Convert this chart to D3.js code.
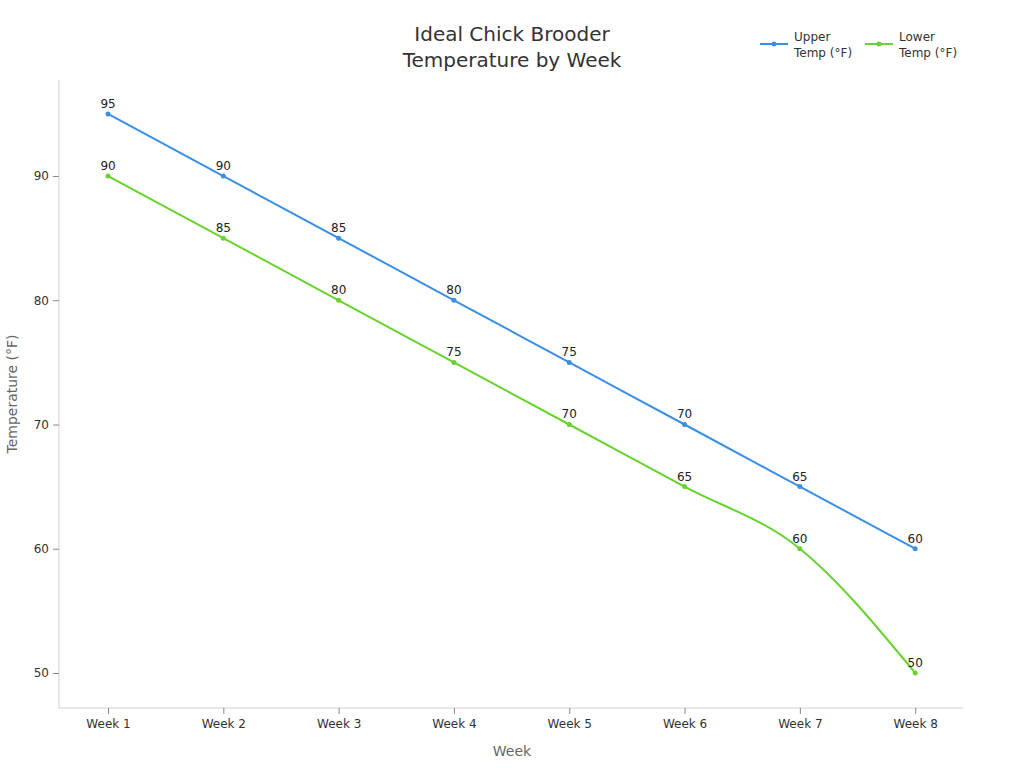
<!DOCTYPE html>
<html>
<head>
<meta charset="utf-8">
<script src="https://cdn.jsdelivr.net/npm/d3@7"></script>
<style>
  body { margin: 0; background: #fff; }
  svg text { font-family: "DejaVu Sans", sans-serif; }
</style>
</head>
<body>
<svg id="chart" width="1024" height="768"></svg>
<script>
// datos
var weeks = ["Week 1", "Week 2", "Week 3", "Week 4", "Week 5", "Week 6", "Week 7", "Week 8"];
var upperTemp = [95, 90, 85, 80, 75, 70, 65, 60];
var lowerTemp = [90, 85, 80, 75, 70, 65, 60, 50];
var yTicks = [50, 60, 70, 80, 90];
var seriesNames = ["Upper Temp (°F)", "Lower Temp (°F)"];

var colores = ["#3a8fe3", "#68d22f"];
var margin = {top: 80, right: 61, bottom: 60, left: 59},
    W = 1024, H = 768;

var svg = d3.select("#chart");

var x = d3.scalePoint()
    .domain(weeks)
    .range([margin.left + 0.6, W - margin.right + 0.6])
    .padding(0.42);

var y = d3.scaleLinear()
    .domain([47.18, 97.73])
    .range([H - margin.bottom, margin.top]);

// ejes
var gx = svg.append("g")
    .attr("transform", "translate(0," + (H - margin.bottom) + ")")
    .call(d3.axisBottom(x).tickSize(6).tickPadding(5));
var gy = svg.append("g")
    .attr("transform", "translate(" + margin.left + ",0)")
    .call(d3.axisLeft(y).tickValues(yTicks).tickSize(6).tickPadding(4));

[gx, gy].forEach(function(g) {
    g.select(".domain").attr("stroke", "#d0d0d0");
    g.selectAll(".tick line").attr("stroke", "#888");
    g.selectAll(".tick text").attr("fill", "#333").style("font-size", "12px");
});
gy.select(".domain").attr("d", "M0," + margin.top + "V" + (H - margin.bottom));
gx.select(".domain").attr("d", "M" + margin.left + ",0H" + (W - margin.right));

// titulos
svg.append("text")
    .attr("x", 512).attr("y", 41)
    .attr("text-anchor", "middle")
    .style("font-size", "20px").attr("fill", "#333")
    .text("Ideal Chick Brooder");
svg.append("text")
    .attr("x", 512).attr("y", 67)
    .attr("text-anchor", "middle")
    .style("font-size", "20px").attr("fill", "#333")
    .text("Temperature by Week");

svg.append("text")
    .attr("x", 512).attr("y", 756)
    .attr("text-anchor", "middle")
    .style("font-size", "14px").attr("fill", "#666")
    .text("Week");
svg.append("text")
    .attr("transform", "translate(17," + 394 + ") rotate(-90)")
    .attr("text-anchor", "middle")
    .style("font-size", "14px").attr("fill", "#666")
    .text("Temperature (°F)");

// series
var series = [upperTemp, lowerTemp];
var line = d3.line()
    .x(function(d, i) { return x(weeks[i]); })
    .y(function(d) { return y(d); })
    .curve(d3.curveMonotoneX);

series.forEach(function(vals, s) {
    svg.append("path")
        .datum(vals)
        .attr("fill", "none")
        .attr("stroke", colores[s])
        .attr("stroke-width", 2)
        .attr("d", line);

    svg.selectAll(".pt" + s)
        .data(vals)
        .enter()
        .append("circle")
        .attr("class", "pt" + s)
        .attr("cx", function(d, i) { return x(weeks[i]); })
        .attr("cy", function(d) { return y(d); })
        .attr("r", 2.5)
        .attr("fill", colores[s]);

    svg.selectAll(".lbl" + s)
        .data(vals)
        .enter()
        .append("text")
        .attr("class", "lbl" + s)
        .attr("x", function(d, i) { return x(weeks[i]); })
        .attr("y", function(d) { return y(d) - 6; })
        .attr("text-anchor", "middle")
        .style("font-size", "12px")
        .attr("fill", "#222")
        .text(function(d) { return d; });
});

// leyenda
var legX = [760, 865];
seriesNames.forEach(function(name, s) {
    var g = svg.append("g").attr("transform", "translate(" + legX[s] + ",44)");
    g.append("line").attr("x1", 0).attr("x2", 28).attr("y1", 0).attr("y2", 0)
        .attr("stroke", colores[s]).attr("stroke-width", 2);
    g.append("circle").attr("cx", 14).attr("cy", 0).attr("r", 2.5).attr("fill", colores[s]);
    var parts = name.split(" ");
    g.append("text").attr("x", 34).attr("y", -3)
        .style("font-size", "12px").attr("fill", "#333")
        .text(parts[0]);
    g.append("text").attr("x", 34).attr("y", 13)
        .style("font-size", "12px").attr("fill", "#333")
        .text(parts.slice(1).join(" "));
});
</script>
</body>
</html>
